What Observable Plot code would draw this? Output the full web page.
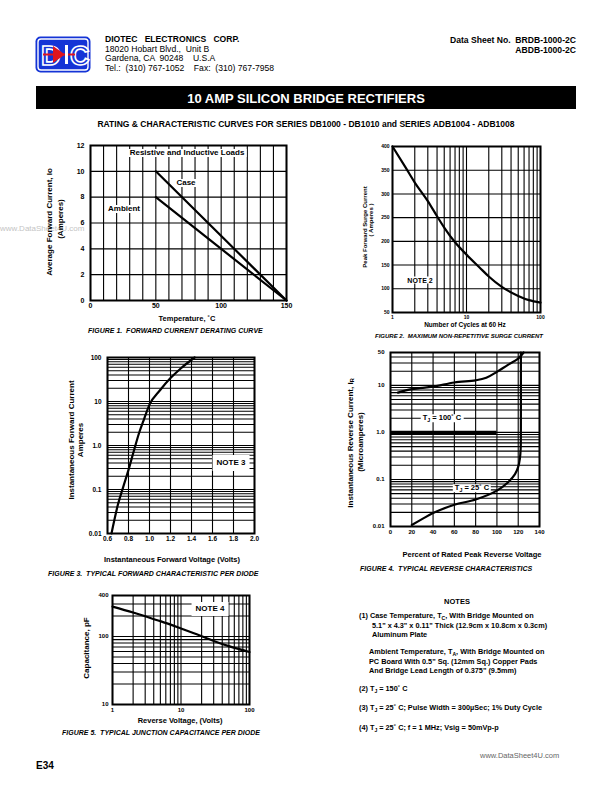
<!DOCTYPE html>
<html><head><meta charset="utf-8">
<script src="https://cdn.jsdelivr.net/npm/d3@7"></script>
<script src="https://cdn.jsdelivr.net/npm/@observablehq/plot@0.6"></script>
<style>
body{margin:0;background:#fff;}
#page{position:relative;width:612px;height:792px;overflow:hidden;font-family:"Liberation Sans",Arial,sans-serif;color:#000;}
.t{position:absolute;white-space:pre;line-height:1;}
.t sub{font-size:70%;vertical-align:-0.25em;line-height:0;}
</style></head><body><div id="page"></div>
<script>
// ---------- DATA ----------
// Figure 1: forward current derating
const fig1Temperature = [50, 150];
const fig1CaseCurrent = [10, 0];
const fig1AmbientCurrent = [8, 0];
const fig1XTicks = [0, 50, 100, 150];
const fig1XLabels = ["0", "50", "100", "150"];
const fig1YTicks = [0, 2, 4, 6, 8, 10, 12];
const fig1YLabels = ["0", "2", "4", "6", "8", "10", "12"];
const fig1XGrid = [0,10,20,30,40,50,60,70,80,90,100,110,120,130,140,150];

// Figure 2: max non-repetitive surge current
const fig2Cycles = [1, 1.5, 2, 3, 4, 5, 7, 10, 15, 20, 30, 50, 70, 100];
const fig2SurgeCurrent = [400, 356, 324, 285, 253, 229, 198, 172, 145, 126, 104, 85, 76, 71];
const fig2XTicks = [1, 10, 100];
const fig2XLabels = ["1", "10", "100"];
const fig2YTicks = [50, 100, 150, 200, 250, 300, 350, 400];
const fig2YLabels = ["50", "100", "150", "200", "250", "300", "350", "400"];

// Figure 3: forward characteristic
const fig3Voltage = [0.638, 0.7, 0.75, 0.8, 0.85, 0.9, 0.95, 1.0, 1.1, 1.2, 1.3, 1.43];
const fig3Current = [0.01, 0.046, 0.115, 0.28, 0.74, 1.9, 4.1, 8.5, 18, 34, 57, 100];
const fig3XTicks = [0.6, 0.8, 1.0, 1.2, 1.4, 1.6, 1.8, 2.0];
const fig3XLabels = ["0.6","0.8","1.0","1.2","1.4","1.6","1.8","2.0"];
const fig3YTicks = [0.01, 0.1, 1, 10, 100];
const fig3YLabels = ["0.01","0.1","1.0","10","100"];

// Figure 4: reverse characteristics
const fig4Percent100 = [7, 20, 40, 60, 80, 90, 100, 110, 120, 125];
const fig4Current100 = [7.0, 8.3, 9.4, 11.5, 12.8, 14.5, 19.4, 27, 37, 50];
const fig4Percent25 = [20, 30, 40, 60, 80, 100, 110, 117, 120, 121.5, 122.3, 122.5, 122.5];
const fig4Current25 = [0.0108, 0.0145, 0.0193, 0.029, 0.0375, 0.058, 0.085, 0.13, 0.185, 0.27, 0.45, 1.2, 50];
const fig4XTicks = [0, 20, 40, 60, 80, 100, 120, 140];
const fig4XLabels = ["0", "20", "40", "60", "80", "100", "120", "140"];
const fig4YTicks = [0.01, 0.1, 1, 10, 50];
const fig4YLabels = ["0.01","0.1","1.0","10","50"];
const fig4BoldRule = [{ir: 1, from: 0, to: 100}];

// Figure 5: junction capacitance
const fig5Voltage = [1, 2, 3, 5, 10, 20, 30, 50, 100];
const fig5Capacitance = [275, 225, 198, 168, 131, 101, 86, 72, 59];
const fig5XTicks = [1, 10, 100];
const fig5XLabels = ["1", "10", "100"];
const fig5YTicks = [10, 100, 400];
const fig5YLabels = ["10", "100", "400"];

// ---------- HELPERS ----------
const page = document.getElementById("page");
function txt(s, x, y, o = {}) {
  const d = document.createElement("div");
  d.className = "t";
  d.innerHTML = s;
  d.style.left = x + "px";
  d.style.top = y + "px";
  d.style.fontSize = (o.size || 8) + "px";
  d.style.fontWeight = o.bold === false ? "normal" : "bold";
  if (o.italic) d.style.fontStyle = "italic";
  if (o.color) d.style.color = o.color;
  if (o.bg) { d.style.background = o.bg; d.style.padding = o.pad || "0 2px"; }
  const ax = o.anchor === "middle" ? "-50%" : o.anchor === "end" ? "-100%" : "0";
  d.style.transform = o.rotate ? "translate(-50%,-50%) rotate(-90deg)" : `translate(${ax},-50%)`;
  page.appendChild(d);
  return d;
}
function logGrid(lo, hi) {
  const out = [];
  for (let e = Math.floor(Math.log10(lo)); e <= Math.ceil(Math.log10(hi)); e++)
    for (let k = 1; k < 10; k++) { const v = +(k * Math.pow(10, e)).toPrecision(6); if (v >= lo * 0.999 && v <= hi * 1.001) out.push(v); }
  return out;
}
function zip(xs, ys) { return xs.map((x, i) => ({x, y: ys[i]})); }
function pairs(vs, ls) { return vs.map((v, i) => ({v, label: ls[i]})); }
const gridStyle = {stroke: "#000", strokeWidth: 1.1};
function chart(frame, scales, marks, m) {
  const [x0, y0, x1, y1] = frame;
  const p = Plot.plot({
    width: x1 - x0 + m.l + m.r, height: y1 - y0 + m.t + m.b,
    marginLeft: m.l, marginRight: m.r, marginTop: m.t, marginBottom: m.b,
    x: {...scales.x, axis: null}, y: {...scales.y, axis: null},
    style: {fontFamily: "'Liberation Sans', Arial, sans-serif", fontWeight: "bold", background: "transparent", overflow: "visible", color: "#000"},
    marks
  });
  p.style.position = "absolute";
  p.style.left = (x0 - m.l) + "px";
  p.style.top = (y0 - m.t) + "px";
  p.style.maxWidth = "none";
  page.appendChild(p);
}
// tick labels drawn as text marks positioned through the chart's scales
function tickLabels(xt, xl, yt, yl, fs, xp, yp) {
  return [
    Plot.text(pairs(xt, xl), {x: "v", text: "label", frameAnchor: "bottom", lineAnchor: "top", dy: xp, fontSize: fs, fontWeight: "bold", fill: "#000"}),
    Plot.text(pairs(yt, yl), {y: "v", text: "label", frameAnchor: "left", textAnchor: "end", dx: -yp, fontSize: fs, fontWeight: "bold", fill: "#000"})
  ];
}

// ---------- HEADER ----------
const logo = document.createElement("div");
logo.style.cssText = "position:absolute;left:35px;top:36px;width:56px;height:37px;";
logo.innerHTML = `<svg width="56" height="37" viewBox="0 0 56 37">
<rect x="0.5" y="0.5" width="55" height="36" rx="5" fill="#1434d6"/>
<rect x="3" y="3" width="50" height="31" rx="3" fill="none" stroke="#fff" stroke-width="1.4"/>
<text x="6" y="29" font-family="Liberation Sans, Arial" font-weight="bold" font-size="27" fill="#1434d6" stroke="#fff" stroke-width="1.6">D</text>
<text x="35" y="29" font-family="Liberation Sans, Arial" font-weight="bold" font-size="27" fill="#1434d6" stroke="#fff" stroke-width="1.6">C</text>
<line x1="8" y1="18.5" x2="40" y2="18.5" stroke="#e0141e" stroke-width="2"/>
<polygon points="18,10 18,27 30,18.5" fill="#e0141e"/>
<rect x="30" y="9" width="3" height="19" fill="#fff"/>
</svg>`;
page.appendChild(logo);

txt("DIOTEC   ELECTRONICS   CORP.", 105, 39, {size: 8.6});
txt("18020 Hobart Blvd.,  Unit B", 105, 48.5, {size: 8.6, bold: false});
txt("Gardena, CA  90248    U.S.A", 105, 58, {size: 8.6, bold: false});
txt("Tel.:  (310) 767-1052    Fax:  (310) 767-7958", 105, 67.7, {size: 8.6, bold: false});
txt("Data Sheet No.  BRDB-1000-2C", 576, 40, {size: 8.6, anchor: "end"});
txt("ABDB-1000-2C", 576, 49.5, {size: 8.6, anchor: "end"});

const bar = document.createElement("div");
bar.style.cssText = "position:absolute;left:36px;top:86px;width:540px;height:23px;background:#000;";
page.appendChild(bar);
txt("10 AMP SILICON BRIDGE RECTIFIERS", 306, 97.5, {size: 13, color: "#fff", anchor: "middle"});
txt("RATING &amp; CHARACTERISTIC CURVES FOR SERIES DB1000 - DB1010 and SERIES ADB1004 - ADB1008", 306, 123.5, {size: 8.5, anchor: "middle"});

// watermark (present in the reference, partly under the axis title)
txt("www.DataSheet4U.com", 0, 229, {size: 8, bold: false, color: "#c4c4c4"});

// ---------- FIGURE 1 ----------
chart([90, 145, 286, 300],
  {x: {domain: [0, 150]}, y: {domain: [0, 12]}},
  [
    Plot.ruleX(fig1XGrid, gridStyle),
    Plot.ruleY(fig1YTicks, gridStyle),
    Plot.line(zip(fig1Temperature, fig1CaseCurrent), {x: "x", y: "y", strokeWidth: 2.2}),
    Plot.line(zip(fig1Temperature, fig1AmbientCurrent), {x: "x", y: "y", strokeWidth: 2.2}),
    Plot.frame({strokeWidth: 2}),
    ...tickLabels(fig1XTicks, fig1XLabels, fig1YTicks, fig1YLabels, 7, 3, 6)
  ], {l: 30, r: 8, t: 6, b: 16});
txt("Resistive and Inductive Loads", 187, 153, {size: 8, anchor: "middle", bg: "#fff"});
txt("Case", 186, 183, {size: 8, anchor: "middle", bg: "#fff"});
txt("Ambient", 124, 209, {size: 8, anchor: "middle", bg: "#fff"});
txt("Average Forward Current, Io", 50, 222, {size: 8, rotate: true});
txt("(Amperes)", 61, 219, {size: 8, rotate: true});
txt("Temperature, ˚C", 187, 319, {size: 7.5, anchor: "middle"});
txt("FIGURE 1.  FORWARD CURRENT DERATING CURVE", 88, 330, {size: 7, italic: true});

// ---------- FIGURE 2 ----------
chart([392, 146, 540, 312],
  {x: {type: "log", domain: [1, 100]}, y: {domain: [50, 400]}},
  [
    Plot.ruleX(logGrid(1, 100), gridStyle),
    Plot.ruleY(fig2YTicks, gridStyle),
    Plot.line(zip(fig2Cycles, fig2SurgeCurrent), {x: "x", y: "y", strokeWidth: 2.2, curve: "monotone-x"}),
    Plot.frame({strokeWidth: 2}),
    ...tickLabels(fig2XTicks, fig2XLabels, fig2YTicks, fig2YLabels, 5, 3, 3)
  ], {l: 20, r: 8, t: 6, b: 12});
txt("NOTE 2", 420, 280, {size: 7, anchor: "middle", bg: "#fff"});
txt("Peak Forward Surge Current", 365, 227, {size: 6, rotate: true});
txt("( Amperes )", 371, 220, {size: 6, rotate: true});
txt("Number of Cycles at 60 Hz", 465, 325, {size: 6.5, anchor: "middle"});
txt("FIGURE 2.  MAXIMUM NON-REPETITIVE SURGE CURRENT", 375, 335.5, {size: 6, italic: true});

// ---------- FIGURE 3 ----------
chart([107, 357, 254, 533],
  {x: {domain: [0.6, 2.0]}, y: {type: "log", domain: [0.01, 100]}},
  [
    Plot.ruleX(fig3XTicks, gridStyle),
    Plot.ruleY(logGrid(0.01, 100), gridStyle),
    Plot.line(zip(fig3Voltage, fig3Current), {x: "x", y: "y", strokeWidth: 2.2, curve: "monotone-x"}),
    Plot.frame({strokeWidth: 2}),
    ...tickLabels(fig3XTicks, fig3XLabels, fig3YTicks, fig3YLabels, 6.5, 3, 6)
  ], {l: 30, r: 10, t: 6, b: 14});
txt("NOTE 3", 231, 463, {size: 8, anchor: "middle", bg: "#fff", pad: "4px 4px"});
txt("Instantaneous Forward Current", 72, 440, {size: 8, rotate: true});
txt("Amperes", 81, 440, {size: 8, rotate: true});
txt("Instantaneous Forward Voltage (Volts)", 172, 560, {size: 7.5, anchor: "middle"});
txt("FIGURE 3.  TYPICAL FORWARD CHARACTERISTIC PER DIODE", 48, 573, {size: 7, italic: true});

// ---------- FIGURE 4 ----------
chart([390, 352, 539, 526],
  {x: {domain: [0, 140]}, y: {type: "log", domain: [0.01, 50]}},
  [
    Plot.ruleX(fig4XTicks, gridStyle),
    Plot.ruleY(logGrid(0.01, 50), gridStyle),
    Plot.ruleY(fig4BoldRule, {y: "ir", x1: "from", x2: "to", strokeWidth: 3.2}),
    Plot.line(zip(fig4Percent100, fig4Current100), {x: "x", y: "y", strokeWidth: 2.2, curve: "catmull-rom"}),
    Plot.line(zip(fig4Percent25, fig4Current25), {x: "x", y: "y", strokeWidth: 2.2, curve: "catmull-rom"}),
    Plot.frame({strokeWidth: 2}),
    ...tickLabels(fig4XTicks, fig4XLabels, fig4YTicks, fig4YLabels, 6, 3, 6)
  ], {l: 30, r: 10, t: 6, b: 12});
txt("T<sub>J</sub> = 100˚ C", 442, 418, {size: 7.5, anchor: "middle", bg: "#fff"});
txt("T<sub>J</sub> = 25˚ C", 472, 488, {size: 7.5, anchor: "middle", bg: "#fff"});
txt("Instantaneous Reverse Current, I<sub>R</sub>", 351, 443, {size: 8, rotate: true});
txt("(Microamperes)", 361, 442, {size: 8, rotate: true});
txt("Percent of Rated Peak Reverse Voltage", 472, 555, {size: 7.5, anchor: "middle"});
txt("FIGURE 4.  TYPICAL REVERSE CHARACTERISTICS", 360, 568, {size: 7, italic: true});

// ---------- FIGURE 5 ----------
chart([112, 595, 249, 704],
  {x: {type: "log", domain: [1, 100]}, y: {type: "log", domain: [10, 400]}},
  [
    Plot.ruleX(logGrid(1, 100), gridStyle),
    Plot.ruleY(logGrid(10, 400), gridStyle),
    Plot.line(zip(fig5Voltage, fig5Capacitance), {x: "x", y: "y", strokeWidth: 2.2, curve: "monotone-x"}),
    Plot.frame({strokeWidth: 2}),
    ...tickLabels(fig5XTicks, fig5XLabels, fig5YTicks, fig5YLabels, 6, 3, 4)
  ], {l: 25, r: 10, t: 6, b: 12});
txt("NOTE 4", 210, 609, {size: 8, anchor: "middle", bg: "#fff", pad: "3px 4px"});
txt("Capacitance, pF", 87, 648, {size: 8, rotate: true});
txt("Reverse Voltage, (Volts)", 180, 721, {size: 7.5, anchor: "middle"});
txt("FIGURE 5.  TYPICAL JUNCTION CAPACITANCE PER DIODE", 62, 732, {size: 7, italic: true});

// ---------- NOTES ----------
txt("NOTES", 457, 602, {size: 7.5, anchor: "middle"});
const nx = 359;
txt("(1) Case Temperature, T<sub>C</sub>, With Bridge Mounted on", nx, 616, {size: 7.3});
txt("5.1\" x 4.3\" x 0.11\" Thick (12.9cm x 10.8cm x 0.3cm)", nx + 13, 625.5, {size: 7.3});
txt("Aluminum Plate", nx + 13, 635, {size: 7.3});
txt("Ambient Temperature, T<sub>A</sub>, With Bridge Mounted on", nx + 10, 652, {size: 7.3});
txt("PC Board With 0.5\" Sq. (12mm Sq.) Copper Pads", nx + 10, 661.5, {size: 7.3});
txt("And Bridge Lead Length of 0.375\" (9.5mm)", nx + 10, 671, {size: 7.3});
txt("(2) T<sub>J</sub> = 150˚ C", nx, 689, {size: 7.3});
txt("(3) T<sub>J</sub> = 25˚ C; Pulse Width = 300µSec; 1% Duty Cycle", nx, 708, {size: 7.3});
txt("(4) T<sub>J</sub> = 25˚ C; f = 1 MHz; Vsig = 50mVp-p", nx, 728, {size: 7.3});

// ---------- FOOTER ----------
txt("E34", 36, 766, {size: 10});
txt("www.DataSheet4U.com", 480, 756, {size: 7.5, bold: false, color: "#666"});
</script>
</body></html>
